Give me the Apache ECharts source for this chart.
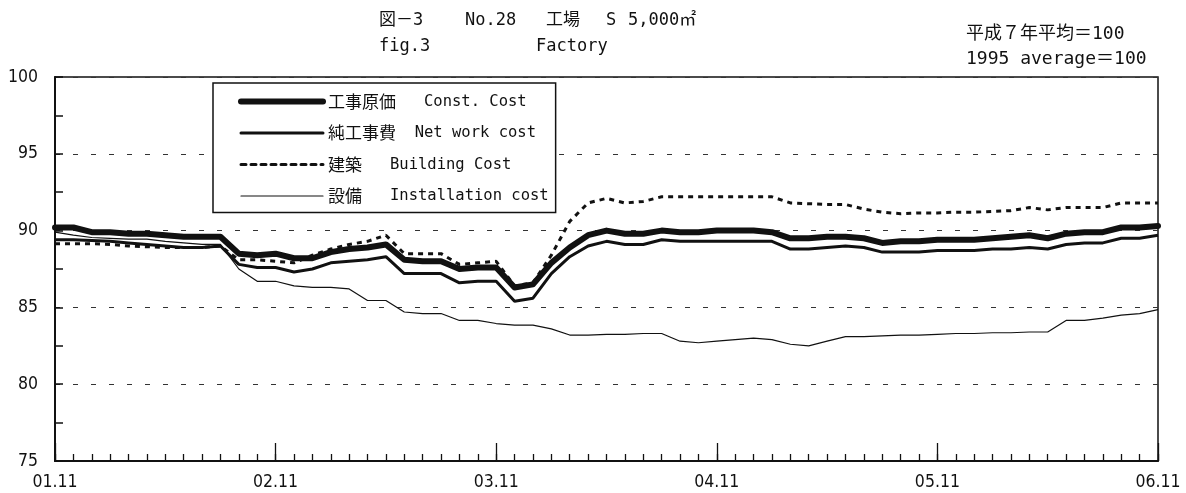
<!DOCTYPE html>
<html><head><meta charset="utf-8">
<script src="https://cdn.jsdelivr.net/npm/echarts@6/dist/echarts.min.js"></script>
<style>html,body{margin:0;padding:0;background:#fff}#c{width:1186px;height:493px}</style>
</head><body><div id="c"></div>
<script>
const categories = [
 '01.11','01.12','02.01','02.02','02.03','02.04','02.05','02.06','02.07','02.08','02.09','02.10',
 '02.11','02.12','03.01','03.02','03.03','03.04','03.05','03.06','03.07','03.08','03.09','03.10',
 '03.11','03.12','04.01','04.02','04.03','04.04','04.05','04.06','04.07','04.08','04.09','04.10',
 '04.11','04.12','05.01','05.02','05.03','05.04','05.05','05.06','05.07','05.08','05.09','05.10',
 '05.11','05.12','06.01','06.02','06.03','06.04','06.05','06.06','06.07','06.08','06.09','06.10',
 '06.11'];
const constCost = [
 90.2,90.2,89.9,89.9,89.8,89.8,89.7,89.6,89.6,89.6,88.5,88.4,
 88.5,88.2,88.2,88.6,88.8,88.9,89.1,88.1,88.0,88.0,87.5,87.6,
 87.6,86.3,86.5,87.9,88.9,89.7,90.0,89.8,89.8,90.0,89.9,89.9,
 90.0,90.0,90.0,89.9,89.5,89.5,89.6,89.6,89.5,89.2,89.3,89.3,
 89.4,89.4,89.4,89.5,89.6,89.7,89.5,89.8,89.9,89.9,90.2,90.2,
 90.3];
const netWorkCost = [
 89.4,89.4,89.35,89.3,89.2,89.1,89.0,88.9,88.9,89.0,87.8,87.6,
 87.6,87.3,87.5,87.9,88.0,88.1,88.3,87.2,87.2,87.2,86.6,86.7,
 86.7,85.4,85.6,87.2,88.3,89.0,89.3,89.1,89.1,89.4,89.3,89.3,
 89.3,89.3,89.3,89.3,88.8,88.8,88.9,89.0,88.9,88.6,88.6,88.6,
 88.7,88.7,88.7,88.8,88.8,88.9,88.8,89.1,89.2,89.2,89.5,89.5,
 89.7];
const buildingCost = [
 89.15,89.15,89.15,89.1,89.0,88.95,88.9,88.9,88.9,89.0,88.1,88.1,
 88.0,87.9,88.4,88.8,89.1,89.3,89.7,88.5,88.5,88.5,87.8,87.9,
 88.0,86.4,86.6,88.4,90.6,91.8,92.1,91.8,91.9,92.2,92.2,92.2,
 92.2,92.2,92.2,92.2,91.8,91.75,91.7,91.7,91.4,91.2,91.1,91.15,
 91.15,91.2,91.2,91.25,91.3,91.5,91.35,91.5,91.5,91.5,91.8,91.8,
 91.8];
const installationCost = [
 89.9,89.7,89.55,89.5,89.45,89.45,89.3,89.2,89.1,89.1,87.5,86.7,
 86.7,86.4,86.3,86.3,86.2,85.45,85.45,84.7,84.6,84.6,84.15,84.15,
 83.95,83.85,83.85,83.6,83.2,83.2,83.25,83.25,83.3,83.3,82.8,82.7,
 82.8,82.9,83.0,82.9,82.6,82.5,82.8,83.1,83.1,83.15,83.2,83.2,
 83.25,83.3,83.3,83.35,83.35,83.4,83.4,84.15,84.15,84.3,84.5,84.6,
 84.85];
const seriesJa = ['工事原価','純工事費','建築','設備'];
const seriesEn = ['   Const. Cost','  Net work cost','   Building Cost','   Installation cost'];
const seriesNames = seriesJa.map((j, i) => j + seriesEn[i]);
const yTicks = {min: 75, max: 100, interval: 5};

const FONT = "'DejaVu Sans Mono','Noto Sans CJK JP',monospace";
const FONT_JA = "'Noto Sans CJK JP',sans-serif";
const FONT_NUM = "'DejaVu Sans Condensed','DejaVu Sans',sans-serif";
const INK = '#111';
const widths = [6, 3, 3, 1.2];
const dashes = ['solid', 'solid', [5, 5], 'solid'];

const chart = echarts.init(document.getElementById('c'));
const txt = (text, left, top, size) => ({text, left, top, padding: 0,
  textStyle: {fontFamily: FONT, fontSize: size || 17, fontWeight: 'normal', color: INK}});
chart.setOption({
  animation: false,
  backgroundColor: '#fff',
  title: [
    txt('図－3', 379, 12), txt('No.28', 465, 12), txt('工場', 546, 12), txt('S', 606, 12), txt('5,000㎡', 628, 12),
    txt('fig.3', 379, 38), txt('Factory', 536, 38),
    txt('平成７年平均＝100', 966, 25, 18), txt('1995 average＝100', 966, 50, 18)
  ],
  grid: {left: 55, right: 28, top: 77, bottom: 32, show: true, borderColor: INK, borderWidth: 1.5, backgroundColor: 'transparent'},
  legend: {
    orient: 'vertical', left: 213, top: 83,
    itemWidth: 82, itemHeight: 14, itemGap: 14.5,
    padding: [10, 7, 8, 25],
    borderColor: INK, borderWidth: 1.5, backgroundColor: '#fff',
    selectedMode: false,
    data: seriesNames.map((n, i) => ({name: n, itemStyle: {opacity: 0},
      lineStyle: {width: widths[i], type: dashes[i], color: INK, cap: 'round'}})),
    formatter: name => {
      const i = seriesNames.indexOf(name);
      return '{j|' + seriesJa[i] + '}{e|' + seriesEn[i] + '}';
    },
    textStyle: {fontFamily: FONT, fontSize: 15.5, color: INK, lineHeight: 17,
      rich: {j: {fontFamily: FONT_JA, fontSize: 17, lineHeight: 17, color: INK},
             e: {fontFamily: FONT, fontSize: 15.5, lineHeight: 17, color: INK}}}
  },
  xAxis: [{
    type: 'category', data: categories, boundaryGap: false,
    axisLine: {lineStyle: {color: INK, width: 2}},
    axisTick: {show: true, inside: true, interval: 0, length: 7, lineStyle: {color: INK, width: 1.3}},
    axisLabel: {interval: 11, margin: 12, fontFamily: FONT_NUM, fontSize: 17.5, color: INK},
    splitLine: {show: false}
  }, {
    type: 'category', data: categories, boundaryGap: false, position: 'bottom',
    axisLine: {show: false},
    axisTick: {show: true, inside: true, interval: 11, length: 18, lineStyle: {color: INK, width: 1.3}},
    axisLabel: {show: false}, splitLine: {show: false}
  }],
  yAxis: {
    type: 'value', min: yTicks.min, max: yTicks.max, interval: yTicks.interval,
    axisLine: {show: true, lineStyle: {color: INK, width: 2}},
    axisTick: {show: true, inside: true, length: 8, lineStyle: {color: INK, width: 1.5}},
    minorTick: {show: true, splitNumber: 2, length: 8, lineStyle: {color: INK, width: 1.5}},
    axisLabel: {margin: 17, fontFamily: FONT_NUM, fontSize: 17.5, color: INK},
    splitLine: {show: true, lineStyle: {color: '#333', width: 1, type: [5, 13]}}
  },
  series: [
    {name: seriesNames[3], type: 'line', data: installationCost, symbol: 'none', z: 2,
     itemStyle: {color: INK}, lineStyle: {color: INK, width: widths[3]}},
    {name: seriesNames[2], type: 'line', data: buildingCost, symbol: 'none', z: 3,
     itemStyle: {color: INK}, lineStyle: {color: INK, width: widths[2], type: dashes[2]}},
    {name: seriesNames[1], type: 'line', data: netWorkCost, symbol: 'none', z: 4,
     itemStyle: {color: INK}, lineStyle: {color: INK, width: widths[1]}},
    {name: seriesNames[0], type: 'line', data: constCost, symbol: 'none', z: 5,
     itemStyle: {color: INK}, lineStyle: {color: INK, width: widths[0], cap: 'round', join: 'round'}}
  ]
});
</script></body></html>
